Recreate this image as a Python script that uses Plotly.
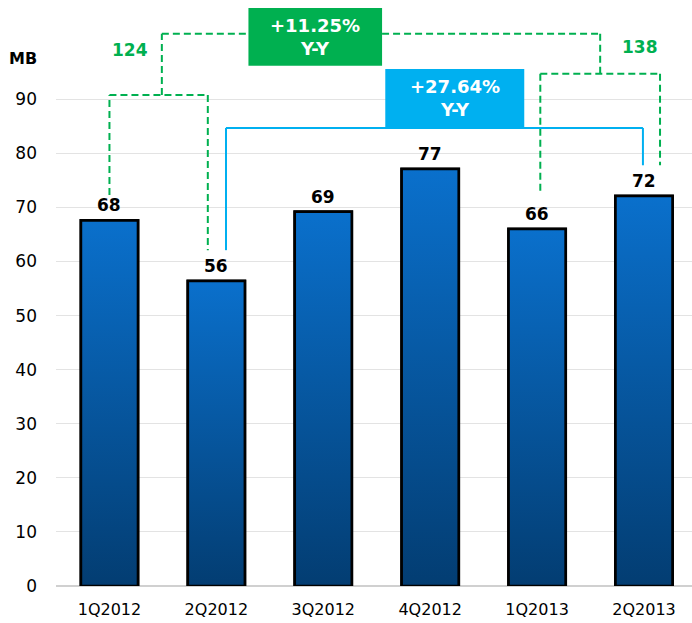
import plotly.graph_objects as go

# ---- data ----
categories = ["1Q2012", "2Q2012", "3Q2012", "4Q2012", "1Q2013", "2Q2013"]
values = [67.6, 56.4, 69.2, 77.1, 66.0, 72.1]
value_labels = ["68", "56", "69", "77", "66", "72"]
y_ticks = [0, 10, 20, 30, 40, 50, 60, 70, 80, 90]
sum_2012h1_label = "124"
sum_2013h1_label = "138"
yy_total_label = "+11.25%<br>Y-Y"
yy_q2_label = "+27.64%<br>Y-Y"
unit_label = "MB"

# ---- style ----
FONT = "DejaVu Sans"
GREEN = "#00B050"
CYAN = "#00B0F0"
TOP = "#0A70CC"
BOTTOM = "#033D72"
BAR_W = 0.533

xs = list(range(len(categories)))
fig = go.Figure()

# bars (base layer)
fig.add_trace(go.Bar(
    x=xs, y=values, width=BAR_W,
    marker=dict(color=BOTTOM, line=dict(color="#000000", width=3)),
    showlegend=False, hoverinfo="skip"))

# gradient fills + outlines for bars
for i, v in zip(xs, values):
    x0, x1 = i - BAR_W / 2, i + BAR_W / 2
    fig.add_trace(go.Scatter(
        x=[x0, x1, x1, x0, x0], y=[0, 0, v, v, 0],
        mode="lines", line=dict(width=2.5, color="#000000"), fill="toself",
        fillgradient=dict(type="vertical", colorscale=[[0, BOTTOM], [1, TOP]], start=0, stop=v),
        hoverinfo="skip", showlegend=False, cliponaxis=False))

shapes = []
annotations = []

# value labels
for i, v, t in zip(xs, values, value_labels):
    annotations.append(dict(x=i, y=v, xref="x", yref="y", text=t, showarrow=False,
                            yanchor="bottom", yshift=3,
                            font=dict(family=FONT, size=17, color="#000000", weight="bold")))

def seg(x0, y0, x1, y1, color, dash=None, width=2):
    shapes.append(dict(type="line", xref="x", yref="y", x0=x0, y0=y0, x1=x1, y1=y1,
                       line=dict(color=color, width=width, dash=dash), layer="above"))

GD = "7px,4px"
# green bracket over 1Q2012 / 2Q2012
seg(0, values[0] + 4.7, 0, 90.8, GREEN, GD)
seg(0, 90.8, 0.92, 90.8, GREEN, GD)
seg(0.92, 90.8, 0.92, values[1] + 5.7, GREEN, GD)
seg(0.49, 90.8, 0.49, 102.1, GREEN, GD)
seg(0.49, 102.1, 1.30, 102.1, GREEN, GD)
seg(2.55, 102.1, 4.59, 102.1, GREEN, GD)
# green bracket over 1Q2013 / 2Q2013
seg(4.59, 102.1, 4.59, 94.7, GREEN, GD)
seg(4.03, 94.7, 5.15, 94.7, GREEN, GD)
seg(4.03, 94.7, 4.03, values[4] + 6.7, GREEN, GD)
seg(5.15, 94.7, 5.15, values[5] + 5.7, GREEN, GD)

# blue connector 2Q2012 -> 2Q2013
seg(1.09, values[1] + 5.7, 1.09, 84.7, CYAN)
seg(1.09, 84.7, 4.99, 84.7, CYAN)
seg(4.99, 84.7, 4.99, values[5] + 5.7, CYAN)

# boxes
shapes.append(dict(type="rect", xref="x", yref="y", x0=1.30, x1=2.55, y0=96.2, y1=106.9,
                   fillcolor=GREEN, line=dict(width=0), layer="above"))
shapes.append(dict(type="rect", xref="x", yref="y", x0=2.58, x1=3.88, y0=84.7, y1=95.6,
                   fillcolor=CYAN, line=dict(width=0), layer="above"))
annotations.append(dict(x=1.925, y=101.55, xref="x", yref="y", text=yy_total_label, showarrow=False,
                        font=dict(family=FONT, size=18, color="white", weight="bold")))
annotations.append(dict(x=3.23, y=90.15, xref="x", yref="y", text=yy_q2_label, showarrow=False,
                        font=dict(family=FONT, size=18, color="white", weight="bold")))
annotations.append(dict(x=0.19, y=99.1, xref="x", yref="y", text=sum_2012h1_label, showarrow=False,
                        font=dict(family=FONT, size=17, color=GREEN, weight="bold")))
annotations.append(dict(x=4.96, y=99.7, xref="x", yref="y", text=sum_2013h1_label, showarrow=False,
                        font=dict(family=FONT, size=17, color=GREEN, weight="bold")))
annotations.append(dict(x=-0.052, y=97.6, xref="paper", yref="y", text=unit_label, showarrow=False,
                        xanchor="center",
                        font=dict(family=FONT, size=16, color="#000000", weight="bold")))

fig.update_layout(
    width=692, height=623,
    margin=dict(l=56, r=0, t=0, b=37),
    paper_bgcolor="white", plot_bgcolor="white",
    shapes=shapes, annotations=annotations,
    xaxis=dict(range=[-0.5, 5.449], tickvals=xs, ticktext=categories,
               showgrid=False, zeroline=False, showline=False,
               ticks="", ticklabelstandoff=12,
               tickfont=dict(family=FONT, size=16, color="#000000"), fixedrange=True),
    yaxis=dict(range=[0, 108.36], tickvals=y_ticks,
               showgrid=True, gridcolor="#E3E3E3", gridwidth=1,
               zeroline=True, zerolinecolor="#D0D0D0", zerolinewidth=2,
               ticks="", ticklabelstandoff=18,
               tickfont=dict(family=FONT, size=17, color="#000000"), fixedrange=True),
    bargap=0.467,
)

fig.write_html("out.html", config={"displayModeBar": False},
               post_script="document.body.style.margin='0px';")
